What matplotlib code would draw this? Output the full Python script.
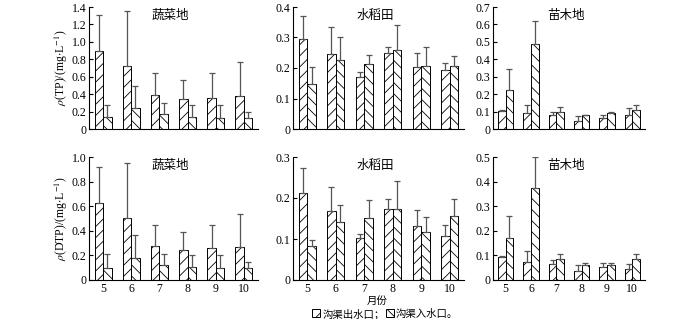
import matplotlib
matplotlib.use('Agg')
import matplotlib.pyplot as plt
from matplotlib.patches import Patch
import numpy as np

plt.rcParams['font.family'] = ['Liberation Serif', 'Noto Sans CJK SC']
plt.rcParams['mathtext.fontset'] = 'stix'
plt.rcParams['hatch.linewidth'] = 0.6

months = [5, 6, 7, 8, 9, 10]
sites = ['蔬菜地', '水稻田', '苗木地']

# TP: mean and top of error bar
tp_out = {
    '蔬菜地': [0.90, 0.72, 0.39, 0.35, 0.36, 0.38],
    '水稻田': [0.295, 0.245, 0.172, 0.248, 0.202, 0.192],
    '苗木地': [0.105, 0.090, 0.080, 0.048, 0.065, 0.080],
}
tp_out_top = {
    '蔬菜地': [1.31, 1.35, 0.64, 0.56, 0.64, 0.77],
    '水稻田': [0.372, 0.335, 0.188, 0.268, 0.250, 0.216],
    '苗木地': [0.108, 0.137, 0.097, 0.072, 0.078, 0.123],
}
tp_in = {
    '蔬菜地': [0.14, 0.24, 0.17, 0.14, 0.13, 0.13],
    '水稻田': [0.147, 0.225, 0.212, 0.260, 0.208, 0.205],
    '苗木地': [0.225, 0.485, 0.100, 0.078, 0.090, 0.108],
}
tp_in_top = {
    '蔬菜地': [0.28, 0.49, 0.30, 0.27, 0.28, 0.19],
    '水稻田': [0.203, 0.302, 0.244, 0.342, 0.270, 0.240],
    '苗木地': [0.345, 0.620, 0.125, 0.082, 0.095, 0.135],
}

# DTP
dtp_out = {
    '蔬菜地': [0.63, 0.505, 0.28, 0.245, 0.26, 0.27],
    '水稻田': [0.212, 0.168, 0.102, 0.172, 0.132, 0.108],
    '苗木地': [0.093, 0.074, 0.066, 0.037, 0.054, 0.044],
}
dtp_out_top = {
    '蔬菜地': [0.92, 0.955, 0.45, 0.39, 0.45, 0.54],
    '水稻田': [0.272, 0.228, 0.113, 0.198, 0.170, 0.135],
    '苗木地': [0.096, 0.118, 0.082, 0.062, 0.070, 0.067],
}
dtp_in = {
    '蔬菜地': [0.10, 0.18, 0.125, 0.105, 0.095, 0.10],
    '水稻田': [0.083, 0.142, 0.152, 0.172, 0.116, 0.156],
    '苗木地': [0.170, 0.375, 0.085, 0.062, 0.062, 0.085],
}
dtp_in_top = {
    '蔬菜地': [0.21, 0.365, 0.215, 0.20, 0.205, 0.145],
    '水稻田': [0.098, 0.183, 0.194, 0.242, 0.153, 0.197],
    '苗木地': [0.26, 0.50, 0.105, 0.070, 0.068, 0.105],
}

tp_ylim = [1.4, 0.4, 0.7]
tp_step = [0.2, 0.1, 0.1]
dtp_ylim = [1.0, 0.3, 0.5]
dtp_step = [0.2, 0.1, 0.1]

W, H = 700, 319
fig = plt.figure(figsize=(7.0, 3.19), dpi=100)

xcols = [(89, 258), (293, 464), (493, 645)]
rows = [(7, 129), (157, 280)]


def fmt(v):
    return '0' if abs(v) < 1e-9 else f'{v:.1f}'


def draw(ax, out, out_top, inn, inn_top, ymax, step, title, show_x):
    x = np.array(months, dtype=float)
    w = 0.3
    out = np.array(out); inn = np.array(inn)
    e_out = np.array(out_top) - out
    e_in = np.array(inn_top) - inn
    ekw = dict(ecolor='#555555', elinewidth=0.9, capsize=2, capthick=0.9)
    ax.bar(x - w / 2, out, w, color='white', edgecolor='black', hatch='///',
           linewidth=0.7, yerr=[np.zeros_like(e_out), e_out], error_kw=ekw)
    ax.bar(x + w / 2, inn, w, color='white', edgecolor='black', hatch='\\\\\\',
           linewidth=0.7, yerr=[np.zeros_like(e_in), e_in], error_kw=ekw)
    ax.set_xlim(4.5, 10.5)
    ax.set_ylim(0, ymax)
    ticks = np.arange(0, ymax + 1e-9, step)
    ax.set_yticks(ticks)
    ax.set_yticklabels([fmt(t) for t in ticks])
    ax.set_xticks(months)
    if show_x:
        ax.set_xticklabels([str(m) for m in months])
    else:
        ax.set_xticklabels([])
    ax.tick_params(axis='x', length=0, labelsize=8.5, pad=2)
    ax.tick_params(axis='y', direction='in', length=3, labelsize=8.5, pad=2)
    for s in ['top', 'right']:
        ax.spines[s].set_visible(False)
    for s in ['left', 'bottom']:
        ax.spines[s].set_linewidth(0.8)
    ax.text(0.48, 0.93, title, transform=ax.transAxes, ha='center', va='center',
            fontsize=9, family=['Noto Sans CJK SC'])


axes = {}
for r, (y0, y1) in enumerate(rows):
    for c, (x0, x1) in enumerate(xcols):
        ax = fig.add_axes([x0 / W, 1 - y1 / H, (x1 - x0) / W, (y1 - y0) / H])
        site = sites[c]
        if r == 0:
            draw(ax, tp_out[site], tp_out_top[site], tp_in[site], tp_in_top[site],
                 tp_ylim[c], tp_step[c], site, False)
        else:
            draw(ax, dtp_out[site], dtp_out_top[site], dtp_in[site], dtp_in_top[site],
                 dtp_ylim[c], dtp_step[c], site, True)
        axes[(r, c)] = ax

axes[(0, 0)].set_ylabel(r'$\rho$(TP)/(mg$\cdot$L$^{-1}$)', fontsize=8.5, labelpad=1)
axes[(1, 0)].set_ylabel(r'$\rho$(DTP)/(mg$\cdot$L$^{-1}$)', fontsize=8.5, labelpad=1)

fig.text(377 / W, 1 - 300.5 / H, '月份', ha='center', va='center', fontsize=7.5,
         family=['Noto Sans CJK SC'])

handles = [Patch(facecolor='white', edgecolor='black', hatch='///', linewidth=0.7),
           Patch(facecolor='white', edgecolor='black', hatch='\\\\\\', linewidth=0.7)]
fig.legend(handles, ['沟渠出水口；', '沟渠入水口。'], loc='center',
           bbox_to_anchor=(385 / W, 1 - 313.5 / H), ncol=2, frameon=False,
           handlelength=0.8, handleheight=0.8, handletextpad=0.2,
           columnspacing=0.1, borderpad=0.0,
           prop={'family': ['Noto Sans CJK SC'], 'size': 7.5})

fig.savefig('out.png', dpi=100)
